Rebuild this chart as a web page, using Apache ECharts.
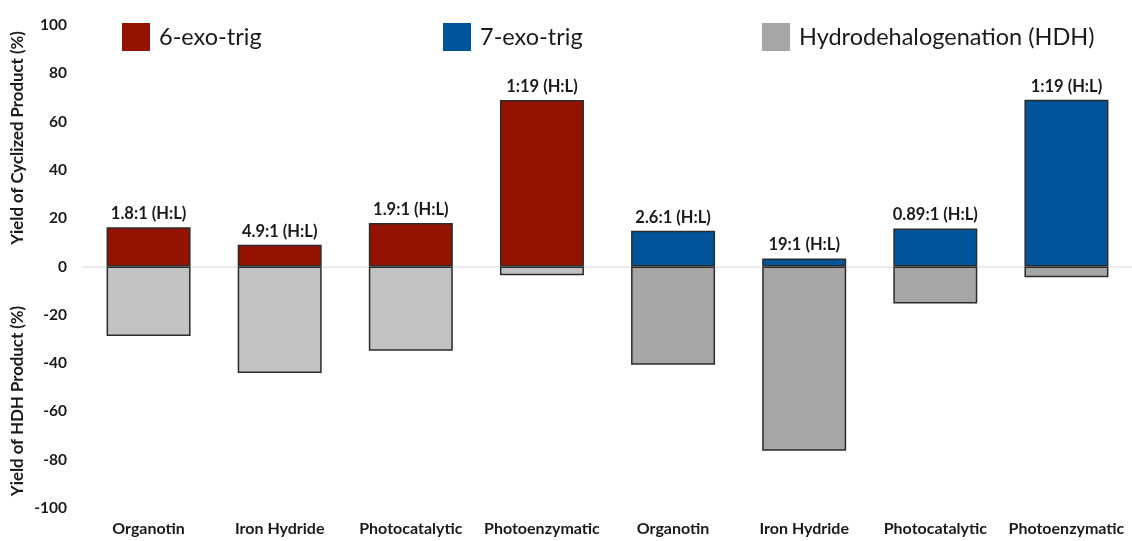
<!DOCTYPE html>
<html>
<head>
<meta charset="utf-8">
<script src="https://cdn.jsdelivr.net/npm/echarts@6/dist/echarts.min.js"></script>
<style>
  html,body{margin:0;padding:0;background:#fff;}
  #chart{width:1132px;height:541px;}
</style>
</head>
<body>
<div id="chart"></div>
<script>
// data
const categories = ["Organotin","Iron Hydride","Photocatalytic","Photoenzymatic","Organotin","Iron Hydride","Photocatalytic","Photoenzymatic"]
const sixExo = [16.3, 9.0, 18.0, 68.9, '-', '-', '-', '-']
const sevenExo = ['-', '-', '-', '-', 14.8, 3.3, 15.7, 69.0]
const hdh = [-28.8, -44.1, -34.9, -3.6, -40.7, -76.3, -15.3, -4.5]
const ratios = ["1.8:1 (H:L)","4.9:1 (H:L)","1.9:1 (H:L)","1:19 (H:L)","2.6:1 (H:L)","19:1 (H:L)","0.89:1 (H:L)","1:19 (H:L)"]
const yTicks = [-100,-80,-60,-40,-20,0,20,40,60,80,100]

const red = "#931200"
const blue = "#00559a"
const grayLight = "#c2c2c2"
const grayDark = "#a6a6a6"
const font = "Lato"

let myChart = echarts.init(document.getElementById("chart"))

const ratioLabel = {
    show:true,
    position:"top",
    distance:5,
    fontFamily:font,
    fontWeight:"bold",
    fontSize:16.5,
    color:"#1a1a1a",
    formatter:(p)=>ratios[p.dataIndex]
}
const barBorder = {borderColor:"#2b2b2b", borderWidth:1.5}

function legendAt(name, left, color){
    return {
        data:[name],
        left:left,
        top:23,
        padding:0,
        icon:"rect",
        itemWidth:28,
        itemHeight:28,
        selectedMode:false,
        itemStyle:{borderWidth:0,color:color},
        textStyle:{
            fontFamily:font,
            fontSize:23.5,
            color:"#1a1a1a",
            padding:[0,0,0,4]
        }
    }
}

function yTitle(text, y){
    return {
        type:"text",
        x:18,
        y:y,
        rotation:Math.PI/2,
        style:{
            text:text,
            fontFamily:font,
            fontWeight:"bold",
            fontSize:16.8,
            fill:"#1a1a1a",
            textAlign:"center",
            textVerticalAlign:"middle"
        }
    }
}

myChart.setOption({
    animation:false,
    textStyle:{fontFamily:font},
    legend:[
        legendAt("6-exo-trig",122,red),
        legendAt("7-exo-trig",443,blue),
        legendAt("Hydrodehalogenation (HDH)",762,grayDark)
    ],
    grid:{
        left:83,
        top:25,
        width:1059,
        height:483
    },
    xAxis:{
        type:"category",
        data:categories,
        axisLine:{show:false,onZero:false},
        axisTick:{show:false},
        axisLabel:{
            margin:13,
            fontFamily:font,
            fontWeight:"bold",
            fontSize:16,
            color:"#1a1a1a",
            interval:0
        }
    },
    yAxis:{
        type:"value",
        min:yTicks[0],
        max:yTicks[yTicks.length-1],
        interval:20,
        axisLine:{show:false},
        axisTick:{show:false},
        splitLine:{show:false},
        axisLabel:{
            margin:16,
            fontFamily:font,
            fontWeight:"bold",
            fontSize:15.5,
            color:"#1a1a1a"
        }
    },
    graphic:[
        yTitle("Yield of Cyclized Product (%)",138),
        yTitle("Yield of HDH Product (%)",401)
    ],
    series:[
        {
            type:"bar",
            name:"6-exo-trig",
            stack:"total",
            barWidth:84,
            data:sixExo,
            itemStyle:Object.assign({color:red},barBorder),
            label:ratioLabel,
            z:3
        },
        {
            type:"bar",
            name:"7-exo-trig",
            stack:"total",
            barWidth:84,
            data:sevenExo,
            itemStyle:Object.assign({color:blue},barBorder),
            label:ratioLabel,
            z:3
        },
        {
            type:"bar",
            name:"Hydrodehalogenation (HDH)",
            stack:"total",
            barWidth:84,
            data:hdh.map((v,i)=>({value:v,itemStyle:{color:i<4?grayLight:grayDark}})),
            itemStyle:Object.assign({color:grayDark},barBorder),
            z:3,
            markLine:{
                silent:true,
                symbol:"none",
                label:{show:false},
                lineStyle:{color:"#ebebeb",width:2,type:"solid"},
                data:[{yAxis:0}],
                z:1
            }
        }
    ]
})
</script>
</body>
</html>
